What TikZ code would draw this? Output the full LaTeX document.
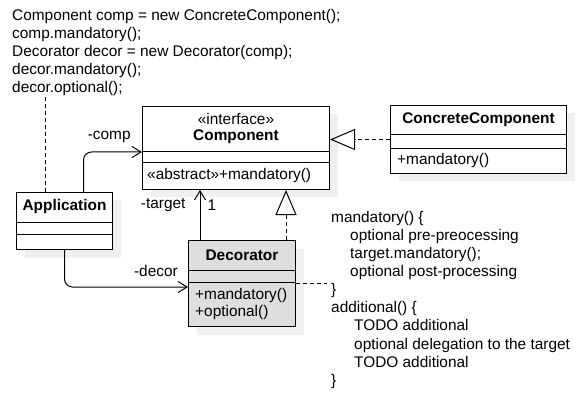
\documentclass[tikz,border=0pt]{standalone}
\usepackage{fontspec}
\setmainfont{Liberation Sans}
\usetikzlibrary{positioning,arrows.meta,shadows}

\begin{document}
\fontsize{15.4}{18.1}\selectfont
\begin{tikzpicture}[
    x=1pt, y=-1pt,
    cls/.style={%
      draw,
      rectangle,
      line width=1pt,
      fill=white,
      inner sep=0pt,
      anchor=north west,
      drop shadow={shadow xshift=8pt, shadow yshift=-8pt, fill=black!6, opacity=1},
    },
    txt/.style={inner sep=0pt},
    sep/.style={line width=1pt},
    assoc/.style={line width=1pt, rounded corners=8pt, -{Straight Barb[length=9pt,width=11pt]}},
    real/.style={line width=1pt, dash pattern=on 4pt off 3pt, -{Triangle[open,length=25pt,width=21pt]}},
  ]
    \useasboundingbox (0,0) rectangle (586,406);

    \node [txt, anchor=north west, align=left] (code) at (12,9) {%
      Component comp = new ConcreteComponent();\\
      comp.mandatory();\\
      Decorator decor = new Decorator(comp);\\
      decor.mandatory();\\
      decor.optional();};

    \node [cls, minimum width=187pt, minimum height=83pt] (comp) at (142,106) {};
    \node [cls, minimum width=176pt, minimum height=68pt] (conc) at (390,105) {};
    \node [cls, minimum width=96pt, minimum height=57pt] (app) at (16,192) {};
    \node [cls, minimum width=107pt, minimum height=86pt, fill=black!13] (dec) at (188,240) {};

    \draw [sep] ([yshift=-46pt]comp.north west) -- ([yshift=-46pt]comp.north east);
    \draw [sep] ([yshift=-57pt]comp.north west) -- ([yshift=-57pt]comp.north east);
    \draw [sep] ([yshift=-30pt]conc.north west) -- ([yshift=-30pt]conc.north east);
    \draw [sep] ([yshift=-44pt]conc.north west) -- ([yshift=-44pt]conc.north east);
    \draw [sep] ([yshift=-30pt]app.north west) -- ([yshift=-30pt]app.north east);
    \draw [sep] ([yshift=-42pt]app.north west) -- ([yshift=-42pt]app.north east);
    \draw [sep] ([yshift=-30pt]dec.north west) -- ([yshift=-30pt]dec.north east);
    \draw [sep] ([yshift=-42pt]dec.north west) -- ([yshift=-42pt]dec.north east);

    \node [txt] at ([yshift=-13pt]comp.north) {«interface»};
    \node [txt] at ([yshift=-31pt]comp.north) {\textbf{Component}};
    \node [txt, anchor=west] at ([xshift=5pt,yshift=-70pt]comp.north west) {«abstract»+mandatory()};
    \node [txt] at ([yshift=-15pt]conc.north) {\textbf{ConcreteComponent}};
    \node [txt, anchor=west] at ([xshift=7pt,yshift=-56pt]conc.north west) {+mandatory()};
    \node [txt] at ([yshift=-15pt]app.north) {\textbf{Application}};
    \node [txt] at ([yshift=-15pt]dec.north) {\textbf{Decorator}};
    \node [txt, anchor=west] at ([xshift=7pt,yshift=-56pt]dec.north west) {+mandatory()};
    \node [txt, anchor=west] at ([xshift=7pt,yshift=-73pt]dec.north west) {+optional()};

    \node [txt, anchor=north west, align=left] (note) at (331,211) {%
      mandatory() \{\\
      \hspace*{19pt}optional pre-preocessing\\
      \hspace*{19pt}target.mandatory();\\
      \hspace*{19pt}optional post-processing\\
      \}\\
      additional() \{\\
      \hspace*{23pt}TODO additional\\
      \hspace*{23pt}optional delegation to the target\\
      \hspace*{23pt}TODO additional\\
      \}};

    \coordinate (use) at ([xshift=-19pt]app.north);
    \coordinate (tgt) at ([xshift=-42pt]dec.north);
    \coordinate (impl) at ([xshift=44pt]dec.north);
    \coordinate (lnk) at ([yshift=-43pt]dec.north east);

    \draw [line width=1pt, dash pattern=on 4pt off 3pt] (use) -- (use |- code.south);
    \draw [assoc] ([xshift=19pt]app.north) |- ([yshift=-46pt]comp.north west)
      node [txt, pos=0.72, above=9pt] {-comp};
    \draw [assoc] (app.south) |- ([yshift=-47pt]dec.north west)
      node [txt, pos=0.87, above=10pt] {-decor};
    \draw [assoc] (tgt) -- (tgt |- comp.south)
      node [txt, pos=0.7, left=14pt] {-target}
      node [txt, pos=0.7, right=7pt] {1};
    \draw [real] (impl) -- (impl |- comp.south);
    \draw [real] (conc.west) -- (conc.west -| comp.east);
    \draw [line width=1pt, dash pattern=on 4pt off 3pt] (lnk) -- ([xshift=-4pt]lnk -| note.west);
\end{tikzpicture}
\end{document}
